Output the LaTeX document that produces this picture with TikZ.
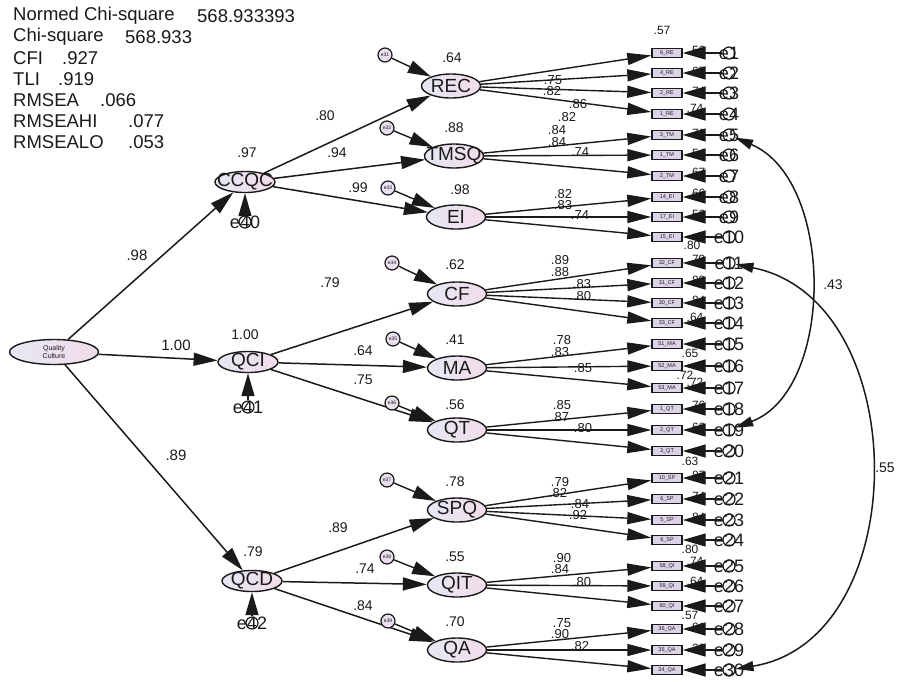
\documentclass[tikz,border=0pt]{standalone}
\usepackage{fontspec}
\setmainfont{Liberation Sans}
\usetikzlibrary{arrows.meta,shapes.geometric}
\definecolor{latL}{HTML}{E6E7F3}
\definecolor{latR}{HTML}{F2DCEA}
\definecolor{boxc}{HTML}{DDD3E8}
\definecolor{errf}{HTML}{EADFEE}
\definecolor{ink}{HTML}{1A1A1A}
\begin{document}
\begin{tikzpicture}[x=1pt,y=-1pt,
  every node/.style={text=ink},
  lat/.style={ellipse,draw=ink,line width=1.4pt,left color=latL,right color=latR,
    minimum width=59pt,minimum height=24pt,inner sep=0pt},
  toplat/.style={lat,minimum width=60pt,minimum height=21pt},
  latlab/.style={font=\fontsize{19}{19}\selectfont,inner sep=0pt,text=ink},
  ind/.style={rectangle,draw=ink,line width=1.4pt,fill=boxc,minimum width=30pt,
    minimum height=9pt,inner sep=0pt,font=\fontsize{5.5}{5.5}\selectfont},
  errc/.style={circle,draw=ink,line width=1.2pt,minimum size=12pt,inner sep=0pt},
  elab/.style={font=\fontsize{18}{18}\selectfont,inner sep=0pt,text=ink},
  serr/.style={circle,draw=ink,line width=1.2pt,fill=errf,minimum size=14pt,inner sep=0pt,
    font=\fontsize{5}{5}\selectfont},
  arrA/.style={draw=ink,line width=1.5pt,-{Triangle[length=24pt,width=13pt]}},
  arrB/.style={draw=ink,line width=1.4pt,-{Triangle[length=24pt,width=12pt]}},
  arrE/.style={draw=ink,line width=1.4pt,-{Triangle[length=23pt,width=13pt]}},
  cov/.style={draw=ink,line width=1.5pt,
    {Triangle[length=18pt,width=10pt]}-{Triangle[length=18pt,width=10pt]}},
  stat/.style={anchor=west,inner sep=0pt,font=\fontsize{18.5}{18.5}\selectfont},
  pl/.style={inner sep=0pt,font=\fontsize{15}{15}\selectfont},
  sl/.style={inner sep=0pt,font=\fontsize{14}{14}\selectfont},
  ld/.style={inner sep=0pt,font=\fontsize{13}{13}\selectfont},
  rsq/.style={inner sep=0pt,font=\fontsize{12}{12}\selectfont}
]
\useasboundingbox (0,0) rectangle (902,681);

% fit statistics
\node[stat] at (13,16) {Normed Chi-square};  \node[stat] at (197,16) {568.933393};
\node[stat] at (13,37) {Chi-square};         \node[stat] at (125,37) {568.933};
\node[stat] at (13,58) {CFI};                \node[stat] at (62,58) {.927};
\node[stat] at (13,79) {TLI};                \node[stat] at (58,79) {.919};
\node[stat] at (13,100) {RMSEA};             \node[stat] at (100,100) {.066};
\node[stat] at (13,121) {RMSEAHI};           \node[stat] at (128,121) {.077};
\node[stat] at (13,142) {RMSEALO};           \node[stat] at (128,142) {.053};

% second-order factor
\node[lat,minimum width=89pt,minimum height=25pt,
  label={[inner sep=0pt,align=center,font=\fontsize{7}{8}\selectfont]center:Quality\\Culture}]
  (QC) at (54,352) {};

% first-order factors
\node[toplat,label={[latlab]center:CCQC}] (CCQC) at (245,182) {};
\node[toplat,label={[latlab]center:QCI}]  (QCI)  at (248,362) {};
\node[toplat,label={[latlab]center:QCD}]  (QCD)  at (252,581) {};

\draw[arrA] (QC) -- (CCQC);
\draw[arrA] (QC) -- (QCI);
\draw[arrA] (QC) -- (QCD);
\node[pl] at (137,255) {.98};
\node[pl] at (176,345) {1.00};
\node[pl] at (176,455) {.89};

\node[sl] at (247,153) {.97};
\node[sl] at (245,335) {1.00};
\node[sl] at (253,552) {.79};

% disturbances of first-order factors
\foreach \n/\x/\y/\t in {e40/245/222/CCQC,e41/248/407/QCI,e42/252/623/QCD}{
  \node[errc,fill=white,label={[elab]center:\n}] (\n) at (\x,\y) {};
  \draw[arrE] (\n) -- (\t);
}

% dimensions
\foreach \n/\x/\y in {REC/451/86,TMSQ/454/156,EI/456/217,CF/457/294,MA/457/368,
  QT/457/430,SPQ/457/510,QIT/457/585,QA/457/650}{
  \node[lat,label={[latlab]center:\n}] (\n) at (\x,\y) {};
}
\foreach \p/\c in {CCQC/REC,CCQC/TMSQ,CCQC/EI,QCI/CF,QCI/MA,QCI/QT,QCD/SPQ,QCD/QIT,QCD/QA}{
  \draw[arrA] (\p) -- (\c);
}
\node[sl] at (325,116) {.80};
\node[sl] at (337,153) {.94};
\node[sl] at (358,188) {.99};
\node[sl] at (330,283) {.79};
\node[sl] at (363,351) {.64};
\node[sl] at (363,380) {.75};
\node[sl] at (338,528) {.89};
\node[sl] at (365,569) {.74};
\node[sl] at (363,606) {.84};

% squared multiple correlations of the dimensions
\foreach \x/\y/\t in {452/58/.64,454/128/.88,460/190/.98,455/265/.62,455/340/.41,
  455/405/.56,455/482/.78,455/557/.55,455/622/.70}{
  \node[sl] at (\x,\y) {\t};
}

% disturbances of the dimensions
\foreach \n/\x/\y/\t in {e31/385/55/REC,e32/387/128/TMSQ,e33/388/188/EI,e34/392/263/CF,
  e35/393/339/MA,e36/392/403/QT,e37/387/480/SPQ,e38/387/557/QIT,e39/388/621/QA}{
  \node[serr] (\n) at (\x,\y) {\n};
  \draw[arrE] (\n) -- (\t);
}

% observed items
\foreach \i/\y/\t/\l in {
  1/53/6\_RE/REC, 2/73/4\_RE/REC, 3/93/2\_RE/REC, 4/114/1\_RE/REC,
  5/135/3\_TM/TMSQ, 6/155/1\_TM/TMSQ, 7/176/2\_TM/TMSQ,
  8/197/14\_EI/EI, 9/217/17\_EI/EI, 10/237/15\_EI/EI,
  11/263/32\_CF/CF, 12/283/31\_CF/CF, 13/303/30\_CF/CF, 14/323/33\_CF/CF,
  15/344/51\_MA/MA, 16/366/52\_MA/MA, 17/388/53\_MA/MA,
  18/409/1\_QT/QT, 19/430/2\_QT/QT, 20/451/3\_QT/QT,
  21/478/10\_SP/SPQ, 22/499/6\_SP/SPQ, 23/520/5\_SP/SPQ, 24/540/8\_SP/SPQ,
  25/566/58\_QI/QIT, 26/586/59\_QI/QIT, 27/606/60\_QI/QIT,
  28/629/36\_QA/QA, 29/650/35\_QA/QA, 30/670/34\_QA/QA}{
  \node[ind] (b\i) at (667,\y) {\t};
  \draw[arrB] (\l) -- (b\i);
}

% factor loadings
\foreach \x/\y/\t in {
  553/80/.75, 552/91/.82, 578/104/.86, 567/117/.82,
  557/130/.84, 557/142/.84, 580/152/.74,
  563/194/.82, 563/205/.83, 580/215/.74,
  560/260/.89, 560/272/.88, 582/284/.83, 582/296/.80,
  562/340/.78, 560/352/.83, 583/368/.85,
  562/405/.85, 560/417/.87, 583/428/.80,
  560/482/.79, 558/493/.82, 580/504/.84, 578/515/.92,
  562/558/.90, 560/569/.84, 582/582/.80,
  562/623/.75, 560/634/.90, 580/646/.82}{
  \node[ld] at (\x,\y) {\t};
}

% squared multiple correlations of the items
\node[rsq] at (662,30) {.57};
\foreach \x/\y/\t in {
  697/50/.56, 697/71/.67, 697/91/.74, 695/108/.74, 697/133/.71, 697/153/.54,
  697/172/.67, 697/193/.66, 697/214/.56, 692/245/.80,
  697/259/.79, 697/280/.80, 697/300/.84, 695/317/.64, 690/353/.65, 685/375/.72,
  695/382/.72, 697/405/.76, 697/427/.66, 690/461/.63,
  697/475/.87, 697/496/.74, 697/517/.84, 690/549/.80, 695/561/.74, 695/581/.64,
  690/615/.57, 697/627/.81, 697/648/.30}{
  \node[rsq] at (\x,\y) {\t};
}

% item errors
\foreach \i/\y in {1/53,2/73,3/93,4/114,5/135,6/155,7/176,8/197,9/217,10/237,
  11/263,12/283,13/303,14/323,15/344,16/366,17/388,18/409,19/430,20/451,
  21/478,22/499,23/520,24/540,25/566,26/586,27/606,28/629,29/650,30/670}{
  \node[errc,fill=white,label={[elab]center:e\i}] (e\i) at (729,\y) {};
  \draw[arrE] (e\i) -- (b\i);
}

% error covariances
\draw[cov] (e5) .. controls (835,180) and (835,390) .. (e19);
\draw[cov] (e11) .. controls (915,300) and (915,640) .. (e30);
\node[sl] at (833,285) {.43};
\node[sl] at (885,468) {.55};
\end{tikzpicture}
\end{document}
